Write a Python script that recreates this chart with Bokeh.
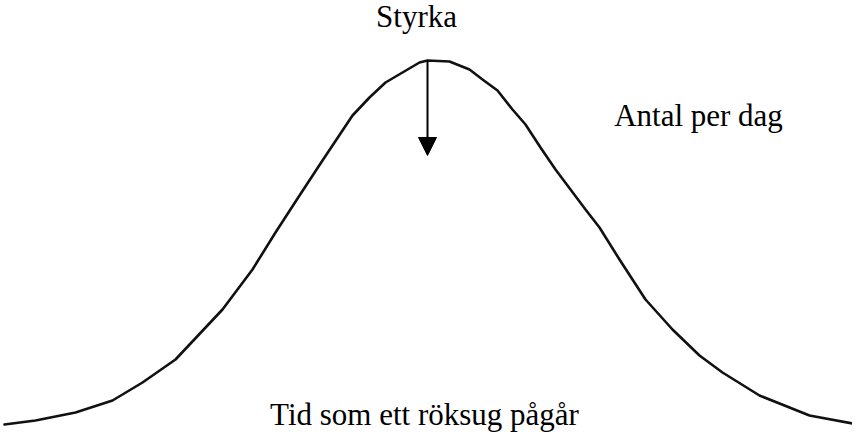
from bokeh.plotting import figure
from bokeh.models import Range1d, Label, Arrow, NormalHead
from bokeh.embed import file_html
from bokeh.resources import INLINE

# Curve: time (horizontal) vs. number per day (height)
time = [12, 43, 83, 120, 150, 183, 230, 260, 283, 307,
        330, 360, 377, 393, 410, 427, 435, 457, 477, 490,
        505, 520, 533, 548, 563, 578, 593, 607, 627, 653,
        680, 707, 730, 767, 817, 860]
count = [16, 20, 28, 40, 58, 81, 131, 171, 208, 245,
         280, 325, 343, 358, 368, 378, 380, 379, 371, 361,
         350, 331, 316, 293, 271, 251, 231, 213, 181, 141,
         111, 85, 68, 45, 25, 17]

# Arrow "Styrka" (strength) from the peak downwards
arrow_time = 435
arrow_from = 380
arrow_to = 285

# Text labels
label_texts = ["Styrka", "Antal per dag", "Tid som ett röksug pågår"]
label_x = [424, 706, 432]
label_y = [424, 325, 26]

FONT = "Liberation Serif"

p = figure(width=852, height=432, output_backend="svg", toolbar_location=None,
           x_range=Range1d(8, 860), y_range=Range1d(8, 440),
           min_border=0, min_border_left=0, min_border_right=0,
           min_border_top=0, min_border_bottom=0)
p.axis.visible = False
p.xgrid.visible = False
p.ygrid.visible = False
p.outline_line_color = None
p.background_fill_color = "white"
p.border_fill_color = "white"

p.line(time, count, line_color="#111111", line_width=2.6,
       line_join="round", line_cap="round")

p.add_layout(Arrow(end=NormalHead(size=18, fill_color="black", line_color="black"),
                   x_start=arrow_time, y_start=arrow_from,
                   x_end=arrow_time, y_end=arrow_to,
                   line_color="black", line_width=2))

for t, x, y in zip(label_texts, label_x, label_y):
    p.add_layout(Label(x=x, y=y, text=t, text_font=FONT, text_font_size="31px",
                       text_color="black", text_align="center",
                       text_baseline="alphabetic"))

open("out.html", "w").write(file_html(p, INLINE))
